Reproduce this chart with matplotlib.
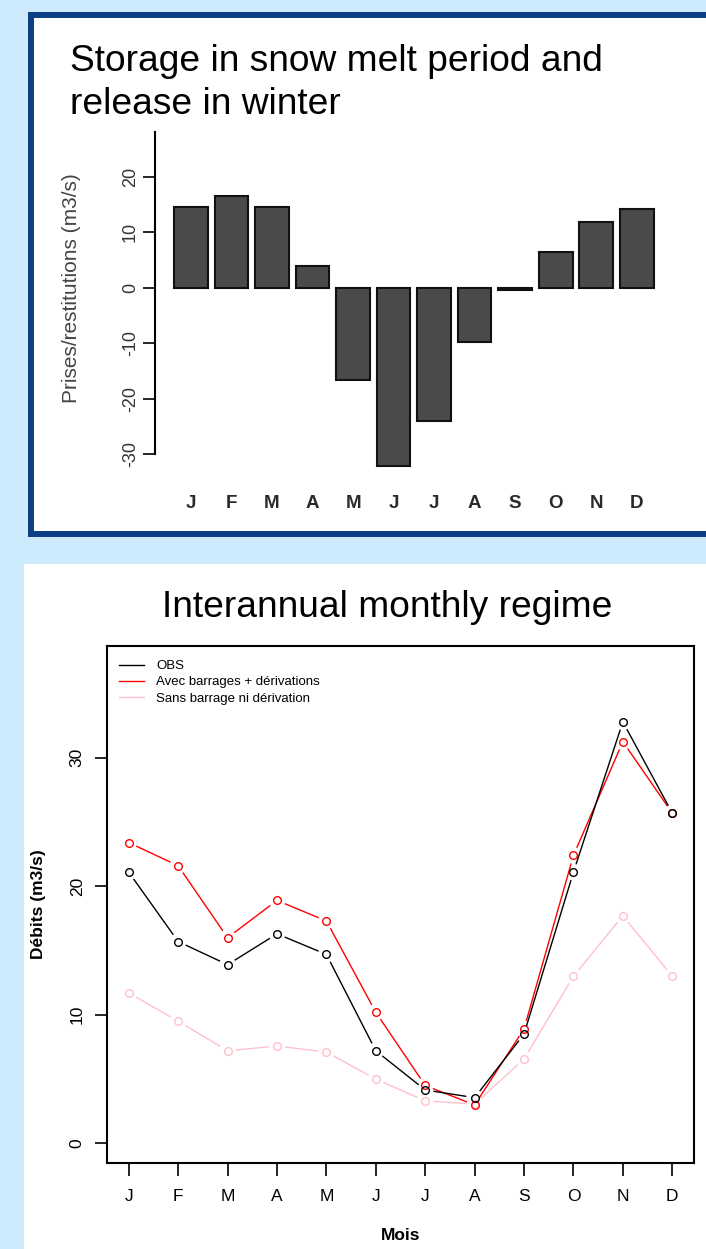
import numpy as np
import matplotlib.pyplot as plt
from matplotlib.patches import Rectangle

plt.rcParams['font.family'] = ['Liberation Sans', 'DejaVu Sans']

# --- Daten ---
mois = ['J', 'F', 'M', 'A', 'M', 'J', 'J', 'A', 'S', 'O', 'N', 'D']
prises = [14.6, 16.6, 14.6, 4.0, -16.6, -32.1, -24.0, -9.8, -0.4, 6.5, 11.8, 14.2]

obs = [21.1, 15.7, 13.9, 16.3, 14.7, 7.2, 4.15, 3.55, 8.5, 21.1, 32.8, 25.7]
avec = [23.4, 21.6, 16.0, 18.9, 17.3, 10.2, 4.5, 2.98, 8.9, 22.4, 31.25, 25.7]
sans = [11.7, 9.5, 7.2, 7.57, 7.1, 5.0, 3.3, 3.05, 6.56, 13.0, 17.7, 13.0]

W, H = 706, 1249
BG = '#cdeafd'
NAVY = '#0a3f85'


def fx(px):
    return px / W


def fy(py):
    return 1 - py / H


def box(left, top, right, bottom):
    return [fx(left), fy(bottom), fx(right) - fx(left), fy(top) - fy(bottom)]


fig = plt.figure(figsize=(W / 100, H / 100), dpi=100, facecolor=BG)

# Rahmen oben (weiss mit dunkelblauem Rand)
fig.patches.append(Rectangle((fx(31), fy(534.5)), fx(760) - fx(31), fy(15) - fy(534.5),
                             transform=fig.transFigure, facecolor='white',
                             edgecolor=NAVY, linewidth=4.3, zorder=-2))
# Rahmen unten
fig.patches.append(Rectangle((fx(24), 0), 1 - fx(24), fy(564),
                             transform=fig.transFigure, facecolor='white',
                             edgecolor='none', zorder=-2))

# --- Oberes Diagramm: Balken ---
fig.text(fx(70), fy(71), 'Storage in snow melt period and', fontsize=26.7, va='baseline')
fig.text(fx(70), fy(114), 'release in winter', fontsize=26.7, va='baseline')

ax1 = fig.add_axes(box(155, 132, 680, 470))
ax1.set_facecolor('none')
x1 = np.arange(len(mois))
ax1.bar(x1, prises, width=0.833, color='#4a4a4a', edgecolor='#111111', linewidth=1.5)
ax1.set_xlim(-0.889, 12.07)
ax1.set_ylim(-32.87, 28.07)
for s in ['top', 'right', 'bottom']:
    ax1.spines[s].set_visible(False)
ax1.spines['left'].set_bounds(-30, 28.07)
ax1.spines['left'].set_linewidth(1.5)
ax1.set_yticks([-30, -20, -10, 0, 10, 20])
ax1.set_yticklabels(['-30', '-20', '-10', '0', '10', '20'], rotation=90, va='center',
                    fontsize=13, color='#333333')
ax1.tick_params(axis='y', length=8.5, width=1.2, pad=3)
ax1.set_xticks(x1)
ax1.set_xticklabels(mois, fontsize=13.5, fontweight='bold', color='#2a2a2a')
ax1.tick_params(axis='x', length=0, pad=18)
ax1.set_ylabel('Prises/restitutions (m3/s)', fontsize=15, color='#444444')
ax1.yaxis.set_label_coords(-0.14, 0.538)

# --- Unteres Diagramm: Linien ---
fig.text(fx(387), fy(617), 'Interannual monthly regime', fontsize=26.7, ha='center', va='baseline')

ax2 = fig.add_axes(box(107, 646, 694, 1162.7))
x2 = np.arange(1, 13)
ax2.set_xlim(0.56, 12.44)
ax2.set_ylim(-1.51, 38.7)

gap = 9.0


def plot_b(ax, x, y, color):
    # Linien mit Luecken um die Punkte (wie type="b" in R)
    pts = ax.transData.transform(np.column_stack([x, y]))
    inv = ax.transData.inverted()
    for i in range(len(pts) - 1):
        d = pts[i + 1] - pts[i]
        L = np.hypot(d[0], d[1])
        if L <= 2 * gap:
            continue
        u = d / L
        seg = inv.transform([pts[i] + u * gap, pts[i + 1] - u * gap])
        ax.plot(seg[:, 0], seg[:, 1], color=color, lw=1.0)
    ax.plot(x, y, 'o', mfc='none', mec=color, ms=5.5, mew=1.0, ls='none')


plot_b(ax2, x2, sans, 'pink')
plot_b(ax2, x2, avec, 'red')
plot_b(ax2, x2, obs, 'black')

h1, = ax2.plot([], [], color='black', lw=1.0, label='OBS')
h2, = ax2.plot([], [], color='red', lw=1.0, label='Avec barrages + dérivations')
h3, = ax2.plot([], [], color='pink', lw=1.0, label='Sans barrage ni dérivation')
ax2.legend(handles=[h1, h2, h3], loc='upper left', bbox_to_anchor=(fx(119), fy(660)),
           bbox_transform=fig.transFigure, frameon=False, fontsize=9.5,
           handlelength=1.9, handletextpad=0.9, labelspacing=0.3,
           borderpad=0, borderaxespad=0)

for s in ax2.spines.values():
    s.set_linewidth(1.5)
ax2.set_xticks(x2)
ax2.set_xticklabels(mois, fontsize=12.5)
ax2.set_yticks([0, 10, 20, 30])
ax2.set_yticklabels(['0', '10', '20', '30'], rotation=90, va='center', fontsize=12.5)
ax2.tick_params(axis='both', length=9, width=1.2)
ax2.tick_params(axis='y', pad=7)
ax2.tick_params(axis='x', pad=10)
ax2.set_xlabel('Mois', fontsize=12.5, fontweight='bold', labelpad=17)
ax2.set_ylabel('Débits (m3/s)', fontsize=12.5, fontweight='bold', labelpad=17)

plt.savefig('out.png', dpi=100, facecolor=BG)
